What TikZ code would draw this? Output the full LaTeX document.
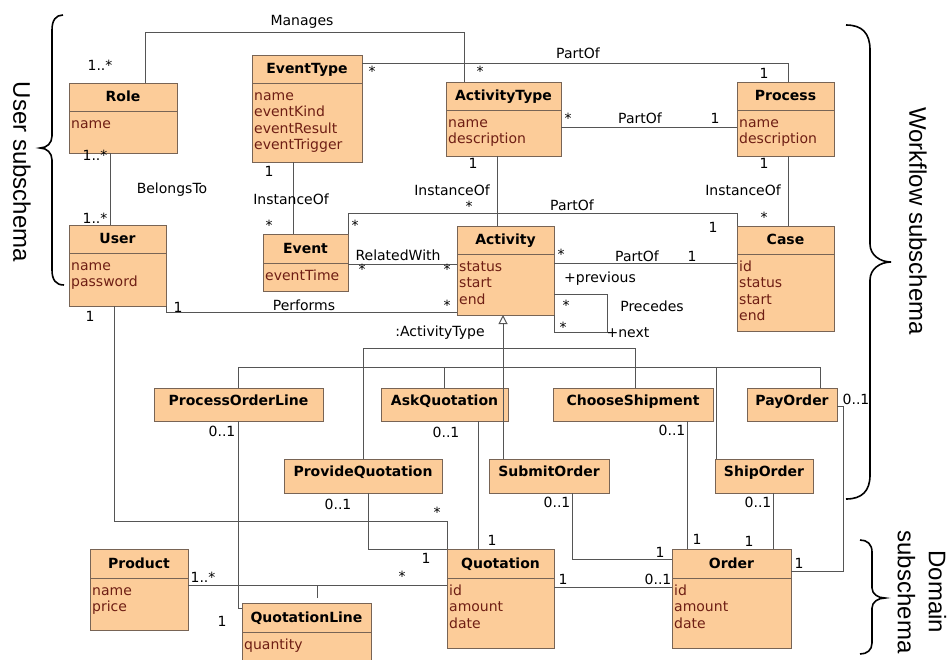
\documentclass[tikz,border=0pt]{standalone}
\usepackage{fontspec}
\setmainfont{DejaVu Sans}
\newfontfamily\bracefont{Liberation Sans}
\usetikzlibrary{calc,arrows.meta}
\definecolor{boxfill}{RGB}{252,204,153}
\definecolor{boxedge}{RGB}{120,100,85}
\definecolor{attrcol}{RGB}{110,30,20}
\definecolor{linecol}{RGB}{85,85,85}
\tikzset{
 classbox/.style={draw=boxedge, fill=boxfill, line width=1pt, rectangle, inner sep=0pt, outer sep=0pt, anchor=north west},
 divider/.style={draw=boxedge, line width=1pt},
 titletext/.style={font=\fontsize{14}{16}\selectfont\bfseries, anchor=base, inner sep=0pt},
 attrtext/.style={font=\fontsize{14}{16}\selectfont, text=attrcol, anchor=base west, inner sep=0pt},
 lbl/.style={font=\fontsize{14}{16}\selectfont, inner sep=0pt},
 assoc/.style={draw=linecol, line width=1pt},
 bracestyle/.style={draw=black, line width=1.6pt},
 bracelabel/.style={font=\bracefont\fontsize{24}{31}\selectfont, rotate=-90, align=center, inner sep=0pt},
}
% name, x, y, w, h, divider, title, attributes
\newcommand{\umlclass}[8]{%
  \node[classbox, minimum width=#4pt, minimum height=#5pt] (#1) at (#2,#3) {};
  \draw[divider] ($(#1.north west)+(0,#6)$) -- ($(#1.north east)+(0,#6)$);
  \node[titletext] (#1-title) at ($(#1.north)+(0,#6-10)$) {#7};
  \foreach \txt [count=\k] in {#8} {
    \node[attrtext] (#1-attr\k) at ($(#1.north west)+(2,#6+17+16.5*\k-16.5)$) {\txt};
  }
}
% name, x, y, w, h, title
\newcommand{\umlsub}[6]{%
  \node[classbox, minimum width=#4pt, minimum height=#5pt] (#1) at (#2,#3) {};
  \node[titletext] (#1-title) at ($(#1.north)+(0,17.5)$) {#6};
}
\begin{document}
\begin{tikzpicture}[x=1pt,y=-1pt]
\useasboundingbox (0,0) rectangle (949,659);

% ---------- classes ----------
\umlclass{role}{69}{83}{108}{70}{28}{Role}{name}
\umlclass{user}{69}{225}{97}{81}{28}{User}{name,password}
\umlclass{evtype}{252}{55}{110}{107}{28}{EventType}{name,eventKind,eventResult,eventTrigger}
\umlclass{acttype}{446}{82}{115}{74}{28}{ActivityType}{name,description}
\umlclass{process}{737}{82}{97}{74}{28}{Process}{name,description}
\umlclass{event}{263}{234}{85}{57}{29}{Event}{eventTime}
\umlclass{activity}{457}{226}{97}{89}{28}{Activity}{status,start,end}
\umlclass{case}{737}{226}{97}{105}{28}{Case}{id,status,start,end}

\umlsub{pol}{154}{388}{169}{33}{ProcessOrderLine}
\umlsub{askq}{381}{388}{127}{33}{AskQuotation}
\umlsub{chship}{553}{388}{160}{33}{ChooseShipment}
\umlsub{payorder}{747}{388}{90}{33}{PayOrder}
\umlsub{provq}{284}{459}{158}{34}{ProvideQuotation}
\umlsub{submit}{489}{459}{120}{34}{SubmitOrder}
\umlsub{shiporder}{715}{459}{98}{34}{ShipOrder}

\umlclass{product}{90}{549}{98}{81}{29}{Product}{name,price}
\umlclass{qline}{242}{603}{129}{70}{29}{QuotationLine}{quantity}
\umlclass{quotation}{447}{549}{107}{99}{29}{Quotation}{id,amount,date}
\umlclass{order}{672}{549}{119}{99}{29}{Order}{id,amount,date}

% ---------- workflow connectors ----------
\draw[assoc] ($(role.north west)+(76,0)$) -- ++(0,-51) -| ($(acttype.north west)+(18,0)$);
\draw[assoc] ($(evtype.north east)+(0,8)$) -| ($(process.north west)+(51,0)$);
\draw[assoc] ($(acttype.north east)+(0,45)$) -- ($(process.north west)+(0,45)$);
\draw[assoc] ($(role.south west)+(41,0)$) -- ($(user.north west)+(41,0)$);
\draw[assoc] ($(evtype.south west)+(41,0)$) -- ($(event.north west)+(30,0)$);
\draw[assoc] ($(acttype.south west)+(51,0)$) -- ($(activity.north west)+(40,0)$);
\draw[assoc] ($(process.south west)+(51,0)$) -- ($(case.north west)+(51,0)$);
\draw[assoc] (event.north east) -- ++(0,-21) -| (case.north west);
\draw[assoc] ($(activity.north east)+(0,37)$) -- ($(case.north west)+(0,37)$);
\draw[assoc] ($(event.north east)+(0,30)$) -- ($(activity.north west)+(0,38)$);
\draw[assoc] (user.south east) |- ($(activity.north west)+(0,86)$);
\draw[assoc] ($(activity.north east)+(0,68)$) -- ++(53,0) -- ++(0,38) -| (activity.south east);

% generalization
\draw[assoc, -{Triangle[open,fill=white,length=9pt,width=9pt]}] ($(submit.north west)+(14,0)$) -- ($(activity.south west)+(46,0)$);
\draw[assoc] ($(provq.north west)+(79,0)$) -- ++(0,-111) -| ($(chship.north west)+(82,0)$);
\draw[assoc] ($(pol.north west)+(84,0)$) -- ++(0,-21) -| ($(payorder.north west)+(73,0)$);
\draw[assoc] ($(askq.north west)+(63,0)$) -- ++(0,-21);
\draw[assoc] ($(shiporder.north west)+(1,0)$) -- ++(0,-92);

% ---------- domain connectors ----------
\draw[assoc] ($(user.south west)+(45,0)$) -- ++(0,215) -| (quotation.north west);
\draw[assoc] ($(pol.south west)+(84,0)$) -- ++(0,187) -- ($(qline.north west)+(0,5)$);
\draw[assoc] ($(product.north east)+(0,36)$) -- ($(quotation.north west)+(0,36)$);
\draw[assoc] ($(qline.north west)+(75,-5)$) -- ++(0,-13);
\draw[assoc] ($(provq.south west)+(84,0)$) |- (quotation.north west);
\draw[assoc] ($(askq.south west)+(97,0)$) -- ($(quotation.north west)+(31,0)$);
\draw[assoc] ($(submit.south west)+(83,0)$) |- ($(order.north west)+(0,10)$);
\draw[assoc] ($(chship.south west)+(134,0)$) -- ($(order.north west)+(15,0)$);
\draw[assoc] ($(shiporder.south west)+(58,0)$) -- ($(order.north west)+(101,0)$);
\draw[assoc] ($(payorder.north east)+(0,18)$) -- ++(6,0) |- ($(order.north east)+(0,22)$);
\draw[assoc] ($(quotation.north east)+(0,38)$) -- ($(order.north west)+(0,38)$);

% ---------- labels ----------
\node[lbl] (lManages) at (302,22) {Manages};
\node[lbl] (mA1) at (100,65) {1..*};
\node[lbl] (mA2) at (480,71) {*};
\node[lbl] (mB1) at (372,71) {*};
\node[lbl] (lPartOf1) at (578,53) {PartOf};
\node[lbl] (mB2) at (764,73) {1};
\node[lbl] (mC1) at (568,118) {*};
\node[lbl] (lPartOf2) at (640,118) {PartOf};
\node[lbl] (mC2) at (715,118) {1};
\node[lbl] (mD1) at (95,155) {1..*};
\node[lbl] (lBelongs) at (172,190) {BelongsTo};
\node[lbl] (mD2) at (95,218) {1..*};
\node[lbl] (mE1) at (269,171) {1};
\node[lbl] (lInst1) at (291,199) {InstanceOf};
\node[lbl] (mE2) at (269,225) {*};
\node[lbl] (mF1) at (473,163) {1};
\node[lbl] (lInst2) at (452,190) {InstanceOf};
\node[lbl] (mF2) at (469,206) {*};
\node[lbl] (mG1) at (764,163) {1};
\node[lbl] (lInst3) at (743,190) {InstanceOf};
\node[lbl] (mG2) at (764,217) {*};
\node[lbl] (lPartOf3) at (572,205) {PartOf};
\node[lbl] (mH1) at (355,225) {*};
\node[lbl] (mH2) at (713,227) {1};
\node[lbl] (mI1) at (561,254) {*};
\node[lbl] (lPartOf4) at (637,256) {PartOf};
\node[lbl] (mI2) at (692,256) {1};
\node[lbl] (lRelated) at (398,255) {RelatedWith};
\node[lbl] (mJ1) at (362,269) {*};
\node[lbl] (mJ2) at (447,269) {*};
\node[lbl] (lPerforms) at (304,305) {Performs};
\node[lbl] (mK1) at (178,307) {1};
\node[lbl] (mK2) at (447,305) {*};
\node[lbl] (lPrev) at (600,279) {+previous};
\node[lbl] (mL1) at (566,305) {*};
\node[lbl] (lPrecedes) at (652,306) {Precedes};
\node[lbl] (mL2) at (563,327) {*};
\node[lbl] (lNext) at (628,333) {+next};
\node[lbl] (lActType) at (440,333) {:ActivityType};

\node[lbl] (mM1) at (222,431) {0..1};
\node[lbl] (mM2) at (222,621) {1};
\node[lbl] (mN1) at (446,432) {0..1};
\node[lbl] (mN2) at (492,540) {1};
\node[lbl] (mO1) at (672,430) {0..1};
\node[lbl] (mO2) at (697,539) {1};
\node[lbl] (mP1) at (856,399) {0..1};
\node[lbl] (mP2) at (799,563) {1};
\node[lbl] (mQ1) at (338,504) {0..1};
\node[lbl] (mQ2) at (426,558) {1};
\node[lbl] (mR1) at (557,502) {0..1};
\node[lbl] (mR2) at (660,552) {1};
\node[lbl] (mS1) at (758,502) {0..1};
\node[lbl] (mS2) at (749,541) {1};
\node[lbl] (mT1) at (90,316) {1};
\node[lbl] (mT2) at (437,512) {*};
\node[lbl] (mU1) at (203,577) {1..*};
\node[lbl] (mU2) at (402,576) {*};
\node[lbl] (mV1) at (563,579) {1};
\node[lbl] (mV2) at (658,579) {0..1};

% ---------- braces ----------
\draw[bracestyle] (63,15) .. controls (56,15) and (52,20) .. (52,30) -- (52,136)
  .. controls (52,143) and (47,148) .. (40,148) .. controls (47,148) and (52,153) .. (52,160)
  -- (52,270) .. controls (52,280) and (56,285) .. (64,285);
\draw[bracestyle] (846,25) .. controls (862,25) and (870,33) .. (870,50) -- (870,244)
  .. controls (870,255) and (880,262) .. (891,262) .. controls (880,262) and (870,269) .. (870,280)
  -- (870,475) .. controls (870,491) and (862,499) .. (846,499);
\draw[bracestyle] (860,540) .. controls (867,540) and (872,544) .. (872,552) -- (872,588)
  .. controls (872,594) and (878,598) .. (885,598) .. controls (878,598) and (872,602) .. (872,608)
  -- (872,643) .. controls (872,650) and (867,654) .. (860,654);

\node[bracelabel] (userlbl) at (22,172) {User subschema};
\node[bracelabel] (wflbl) at (918,221) {Workflow subschema};
\node[bracelabel] (domlbl) at (922,592) {Domain\\subschema};
\end{tikzpicture}
\end{document}
